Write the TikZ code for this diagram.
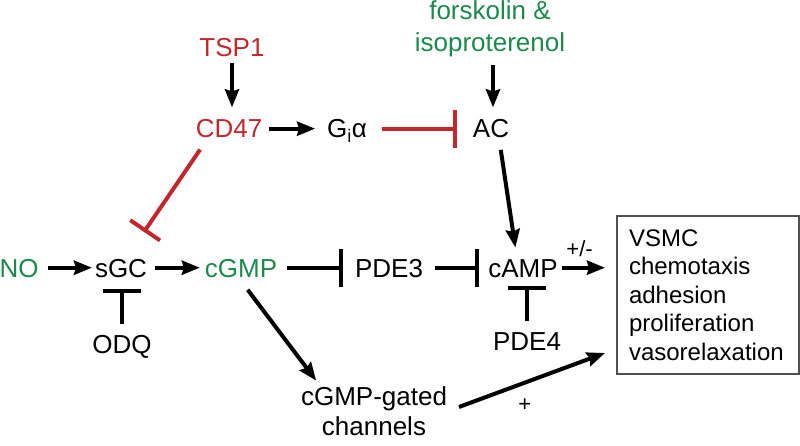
\documentclass[tikz,border=0pt]{standalone}
\usepackage{fontspec}
\setmainfont{Liberation Sans}
\usetikzlibrary{arrows.meta,calc}
\definecolor{myred}{RGB}{193,39,45}
\definecolor{mygreen}{RGB}{27,138,75}
\definecolor{boxgray}{RGB}{80,80,80}
\begin{document}
\begin{tikzpicture}[x=1pt,y=-1pt,
  lab/.style={inner sep=0pt, outer sep=0pt, font=\fontsize{26}{32}\selectfont},
  one/.style={lab, text height=18.6pt, text depth=0pt, anchor=base},
  arr/.style={line width=4pt, -{Stealth[length=18pt,width=14pt,inset=2pt]}},
  inh/.style={line width=4pt, -{Bar[width=38pt]}},
  small/.style={inner sep=0pt, outer sep=0pt, font=\fontsize{22}{26}\selectfont, anchor=base}]
\useasboundingbox (0,0) rectangle (800,446);
% nodes
\node[one, text=myred] (tsp1) at (232,57) {TSP1};
\node[one, text=myred] (cd47) at (229,138) {CD47};
\node[one] (gia) at (347,138) {G\textsubscript{i}α};
\node[one] (ac) at (491,138) {AC};
\node[lab, text=mygreen, align=center, anchor=north] (forsk) at (490,1) {forskolin \&\\isoproterenol};
\node[one, text=mygreen] (no) at (19,277) {NO};
\node[one] (sgc) at (121,277) {sGC};
\node[one, text=mygreen] (cgmp) at (241,277) {cGMP};
\node[one] (pde3) at (389,277) {PDE3};
\node[one] (camp) at (523,277) {cAMP};
\node[one] (odq) at (122,353) {ODQ};
\node[one] (pde4) at (527,350) {PDE4};
\node[lab, font=\fontsize{26}{30}\selectfont, align=center, anchor=north] (chan) at (374,387) {cGMP-gated\\channels};
\node[inner sep=0pt, outer sep=0pt, font=\fontsize{24}{28.5}\selectfont, draw=boxgray, line width=1.5pt,
      align=left, anchor=north west, minimum width=182pt, minimum height=158pt,
      inner xsep=12pt, text width=158pt] (box) at (617,216)
      {VSMC\\chemotaxis\\adhesion\\proliferation\\vasorelaxation};
% connectors
\draw[arr, shorten <=6pt, shorten >=12pt] (tsp1.south) -- (tsp1.south |- cd47.north);
\draw[arr, shorten <=7pt, shorten >=12pt] (cd47.east) -- (gia.west);
\draw[inh, myred, shorten <=15pt, shorten >=16pt] (gia.east) -- (ac.west);
\draw[arr, shorten <=8pt, shorten >=12pt] ([xshift=2pt]ac.north |- forsk.south) -- ([xshift=2pt]ac.north);
\draw[arr, shorten <=12pt, shorten >=11pt] ([xshift=8pt]ac.south) -- ([xshift=-6pt]camp.north);
\draw[myred, line width=4pt, -{Bar[width=36pt]}, shorten <=14pt, shorten >=32pt] ([xshift=-21pt]cd47.south) -- ([xshift=5pt]sgc.north);
\draw[arr, shorten <=9pt, shorten >=3pt] (no.east) -- (sgc.west);
\draw[arr, shorten <=8pt, shorten >=5pt] (sgc.east) -- (cgmp.west);
\draw[inh, shorten <=10pt, shorten >=12pt] (cgmp.east) -- (pde3.west);
\draw[inh, shorten <=12pt, shorten >=9pt] (pde3.east) -- (camp.west);
\draw[arr, shorten <=4pt, shorten >=12pt] (camp.east) -- (camp.east -| box.west)
   node[small, pos=0.37, yshift=11pt] {+/-};
\draw[inh, shorten <=10.5pt, shorten >=12pt] (odq.north) -- (odq.north |- sgc.south);
\draw[inh, shorten <=10.5pt, shorten >=9pt] (pde4.north) -- (pde4.north |- camp.south);
\draw[arr, shorten <=16pt, shorten >=8pt] ([xshift=-3pt]cgmp.south) -- ([xshift=-53pt]chan.north);
\draw[arr] ($(chan.north east)+(12,20)$) -- ($(box.south west)+(-12,-21)$)
   node[small, pos=0.45, yshift=-29pt] {+};
\end{tikzpicture}
\end{document}
